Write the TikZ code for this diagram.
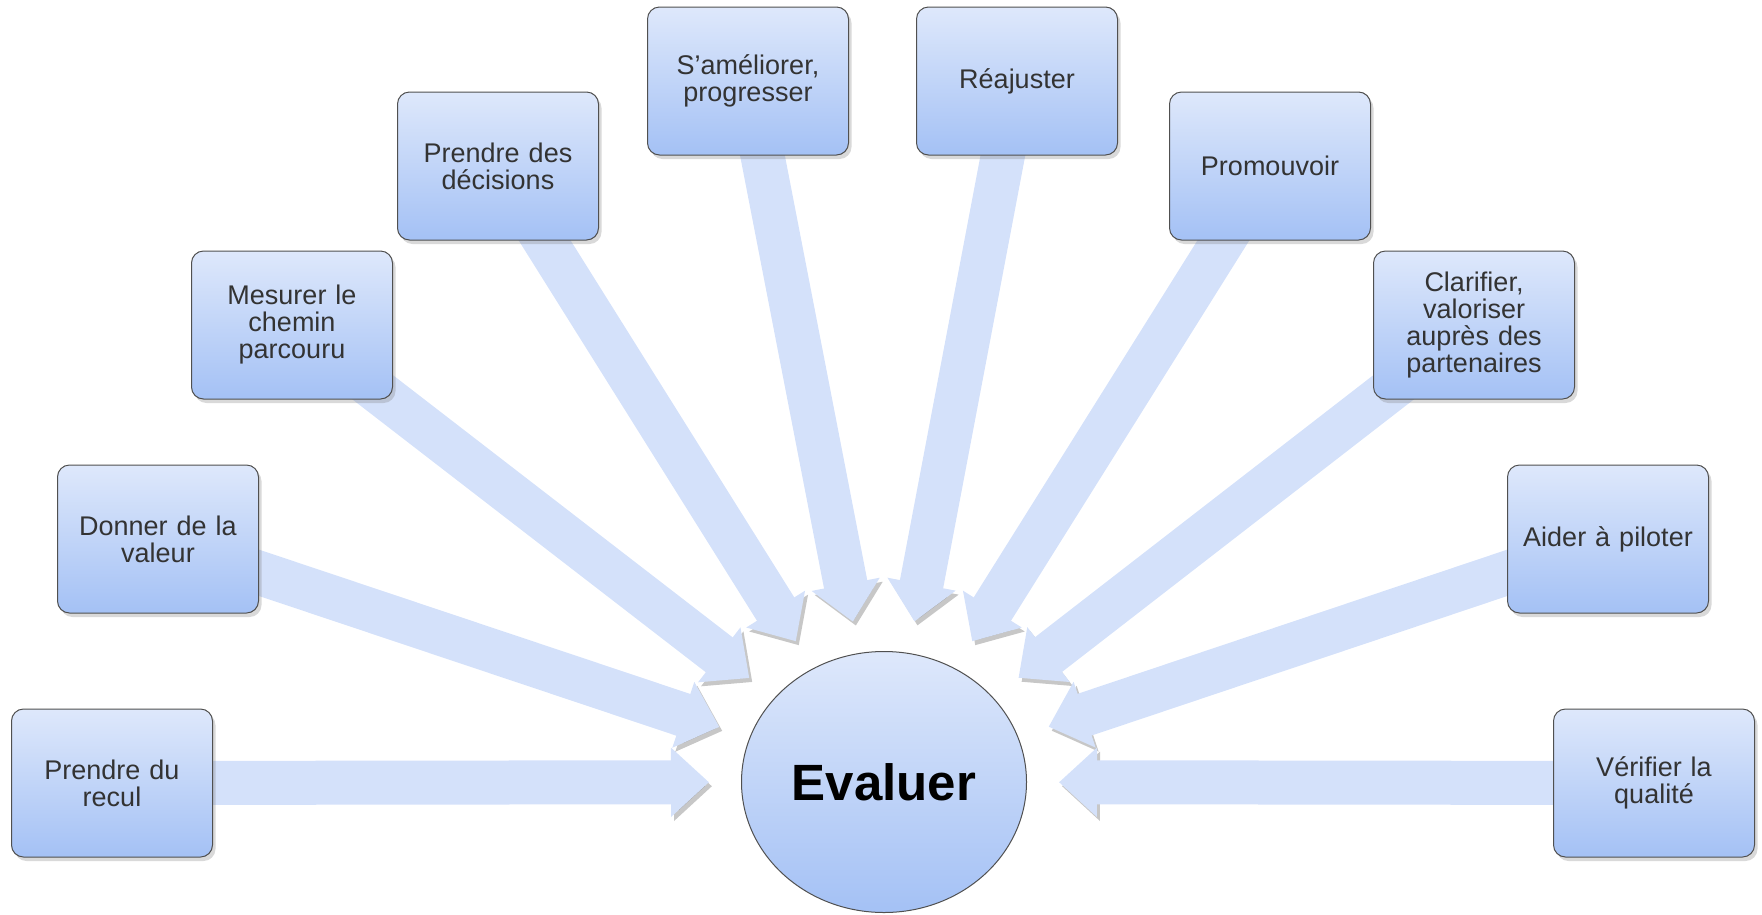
\documentclass[tikz,border=0pt]{standalone}
\usepackage{fontspec}
\setmainfont{Liberation Sans}
\usetikzlibrary{arrows.meta,shadows,backgrounds,shapes.geometric}

\definecolor{boxtop}{HTML}{DEE8FB}
\definecolor{boxbot}{HTML}{A4C1F5}
\definecolor{arrowblue}{HTML}{D4E1FA}
\definecolor{edgegray}{HTML}{505050}

\begin{document}
\begin{tikzpicture}[x=1pt,y=-1pt]
\tikzstyle{block} = [rectangle, draw=edgegray, line width=1pt,
top color=boxtop, bottom color=boxbot, rounded corners=12pt,
minimum width=201pt, minimum height=148pt, text width=185pt, align=center,
font=\fontsize{27}{27}\selectfont, text=black!80,
drop shadow={shadow xshift=3pt, shadow yshift=-4pt, opacity=0.3}]
\tikzstyle{centre} = [ellipse, draw=edgegray, line width=1pt,
top color=boxtop, bottom color=boxbot, minimum width=285pt,
minimum height=261pt, inner sep=0pt, font=\fontsize{51}{51}\selectfont\bfseries]
\tikzstyle{bigarrow} = [draw=arrowblue, line width=44pt,
-{Triangle[length=38pt,width=67pt]}, shorten >=32pt,
preaction={draw=black, opacity=0.22, transform canvas={shift={(3pt,-4pt)}}}]

\useasboundingbox (0,0) rectangle (1762,914);

% centre
\node [centre] (ev) at (884,782) {Evaluer};
% left side
\node [block] (b1) at (112,783) {Prendre du\\recul};
\node [block] (b2) at (158,539) {Donner de la\\valeur};
\node [block] (b3) at (292,325) {Mesurer le\\chemin\\parcouru};
\node [block] (b4) at (498,166) {Prendre des\\décisions};
\node [block] (b5) at (748,81) {S’améliorer,\\progresser};
% right side
\node [block] (b6) at (1017,81) {Réajuster};
\node [block] (b7) at (1270,166) {Promouvoir};
\node [block] (b8) at (1474,325) {Clarifier,\\valoriser\\auprès des\\partenaires};
\node [block] (b9) at (1608,539) {Aider à piloter};
\node [block] (b10) at (1654,783) {Vérifier la\\qualité};

\begin{scope}[on background layer]
\foreach \b in {b1,b2,b3,b4,b5,b6,b7,b8,b9,b10}
  \draw [bigarrow] (\b.center) -- (ev);
\end{scope}

\end{tikzpicture}
\end{document}
